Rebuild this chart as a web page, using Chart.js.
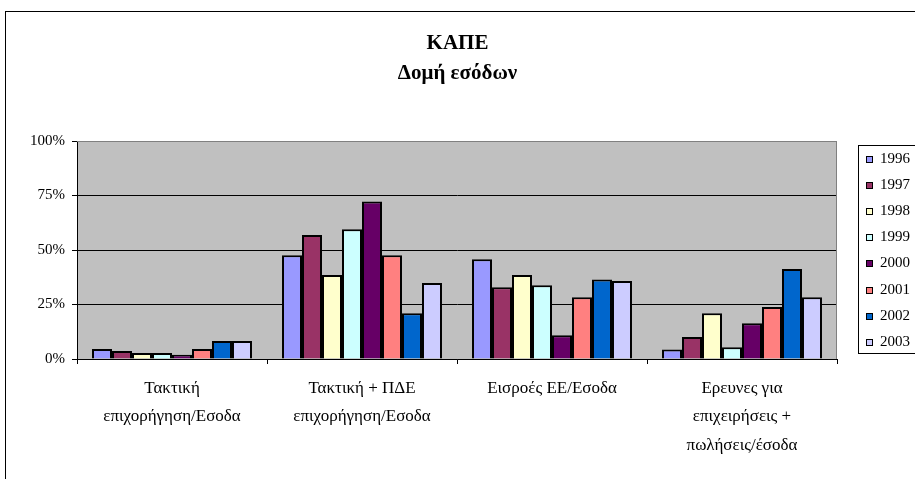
<!DOCTYPE html>
<html>
<head>
<meta charset="utf-8">
<script src="https://cdn.jsdelivr.net/npm/chart.js@4.4.0/dist/chart.umd.min.js"></script>
<style>
  body { margin: 0; background: #fff; }
  #wrap { width: 915px; height: 479px; }
</style>
</head>
<body>
<div id="wrap"><canvas id="chart" width="915" height="479"></canvas></div>
<script>
// DATA
const categories = [
  ['Τακτική', 'επιχορήγηση/Εσοδα'],
  ['Τακτική + ΠΔΕ', 'επιχορήγηση/Εσοδα'],
  ['Εισροές ΕΕ/Εσοδα'],
  ['Ερευνες για', 'επιχειρήσεις +', 'πωλήσεις/έσοδα']
];
const years = ['1996', '1997', '1998', '1999', '2000', '2001', '2002', '2003'];
const v1996 = [4.6, 47.6, 45.7, 4.4];
const v1997 = [3.7, 56.9, 32.9, 10.1];
const v1998 = [2.8, 38.5, 38.5, 21.0];
const v1999 = [2.8, 59.5, 33.8, 5.4];
const v2000 = [2.0, 72.3, 10.9, 16.4];
const v2001 = [4.6, 47.6, 28.3, 23.9];
const v2002 = [8.3, 21.0, 36.5, 41.3];
const v2003 = [8.3, 34.9, 35.8, 28.3];
const yTicks = [0, 25, 50, 75, 100];

const seriesValues = [v1996, v1997, v1998, v1999, v2000, v2001, v2002, v2003];
const colors = ['#9999FF', '#993366', '#FFFFCC', '#CCFFFF', '#660066', '#FF8080', '#0066CC', '#CCCCFF'];
const FONT = "'Liberation Serif', 'Times New Roman', serif";

// BACKGROUND, OUTER FRAME, PLOT AREA
const framePlugin = {
  id: 'frame',
  beforeDraw(chart) {
    const { ctx, chartArea: a } = chart;
    ctx.save();
    ctx.fillStyle = '#fff';
    ctx.fillRect(0, 0, chart.width, chart.height);
    ctx.strokeStyle = '#000';
    ctx.lineWidth = 1;
    ctx.strokeRect(5.5, 11.5, 1000, 1000);
    ctx.fillStyle = '#C0C0C0';
    ctx.fillRect(a.left, a.top, a.right - a.left, a.bottom - a.top);
    ctx.restore();
  },
  beforeDatasetsDraw(chart) {
    const { ctx, chartArea: a } = chart;
    ctx.save();
    ctx.strokeStyle = '#808080';
    ctx.lineWidth = 1;
    ctx.beginPath();
    ctx.moveTo(a.left, a.top + 0.5);
    ctx.lineTo(a.right - 0.5, a.top + 0.5);
    ctx.lineTo(a.right - 0.5, a.bottom);
    ctx.stroke();
    ctx.restore();
  }
};

// LEGEND (boxed, to the right)
const legendPlugin = {
  id: 'boxLegend',
  afterDraw(chart) {
    const ctx = chart.ctx;
    ctx.save();
    ctx.strokeStyle = '#000';
    ctx.lineWidth = 1;
    ctx.strokeRect(858.5, 145.5, 100, 208);
    ctx.font = '15px ' + FONT;
    ctx.textBaseline = 'middle';
    ctx.textAlign = 'left';
    chart.data.datasets.forEach((ds, i) => {
      const y = Math.round(159 + i * 26.1);
      ctx.fillStyle = ds.backgroundColor;
      ctx.fillRect(866, y - 3, 7, 7);
      ctx.strokeStyle = '#000';
      ctx.strokeRect(866.5, y - 2.5, 6, 6);
      ctx.fillStyle = '#000';
      ctx.fillText(ds.label, 880, y);
    });
    ctx.restore();
  }
};

const ctx = document.getElementById('chart').getContext('2d');
const chart = new Chart(ctx, {
  type: 'bar',
  data: {
    labels: categories,
    datasets: years.map((y, i) => ({
      label: y,
      data: seriesValues[i],
      backgroundColor: colors[i],
      borderColor: '#000',
      borderWidth: 2,
      categoryPercentage: 0.842,
      barPercentage: 1
    }))
  },
  options: {
    responsive: false,
    animation: false,
    layout: { padding: 0 },
    plugins: {
      legend: { display: false },
      tooltip: { enabled: false },
      title: {
        display: true,
        text: ['ΚΑΠΕ', 'Δομή εσόδων'],
        color: '#000',
        font: { family: FONT, size: 21, weight: 'bold', lineHeight: 30 / 21 },
        padding: { top: 29, bottom: 52 }
      }
    },
    scales: {
      x: {
        afterFit(scale) { scale.height = 120; },
        border: { display: true, color: '#000', width: 1 },
        grid: { display: true, drawOnChartArea: false, tickLength: 5, color: '#000', offset: true },
        ticks: {
          color: '#000',
          maxRotation: 0,
          autoSkip: false,
          padding: 10,
          font: { family: FONT, size: 17, lineHeight: 28.5 / 17 }
        }
      },
      y: {
        min: 0,
        max: 100,
        afterFit(scale) { scale.width = 77; },
        afterBuildTicks(scale) { scale.ticks = yTicks.map(v => ({ value: v })); },
        border: { display: true, color: '#000', width: 1 },
        grid: {
          color: c => (c.tick && c.tick.value === 100 ? '#808080' : '#000'),
          tickColor: '#000',
          tickLength: 5,
          lineWidth: 1
        },
        ticks: {
          color: '#000',
          padding: 7,
          font: { family: FONT, size: 15 },
          callback: v => v + '%'
        }
      },
      // empty right-hand axis that only reserves room for the legend
      legendSpace: {
        type: 'linear',
        position: 'right',
        min: 0,
        max: 100,
        afterFit(scale) { scale.width = 78; },
        border: { display: false },
        grid: { display: false },
        ticks: { display: false }
      }
    }
  },
  plugins: [framePlugin, legendPlugin]
});
</script>
</body>
</html>
